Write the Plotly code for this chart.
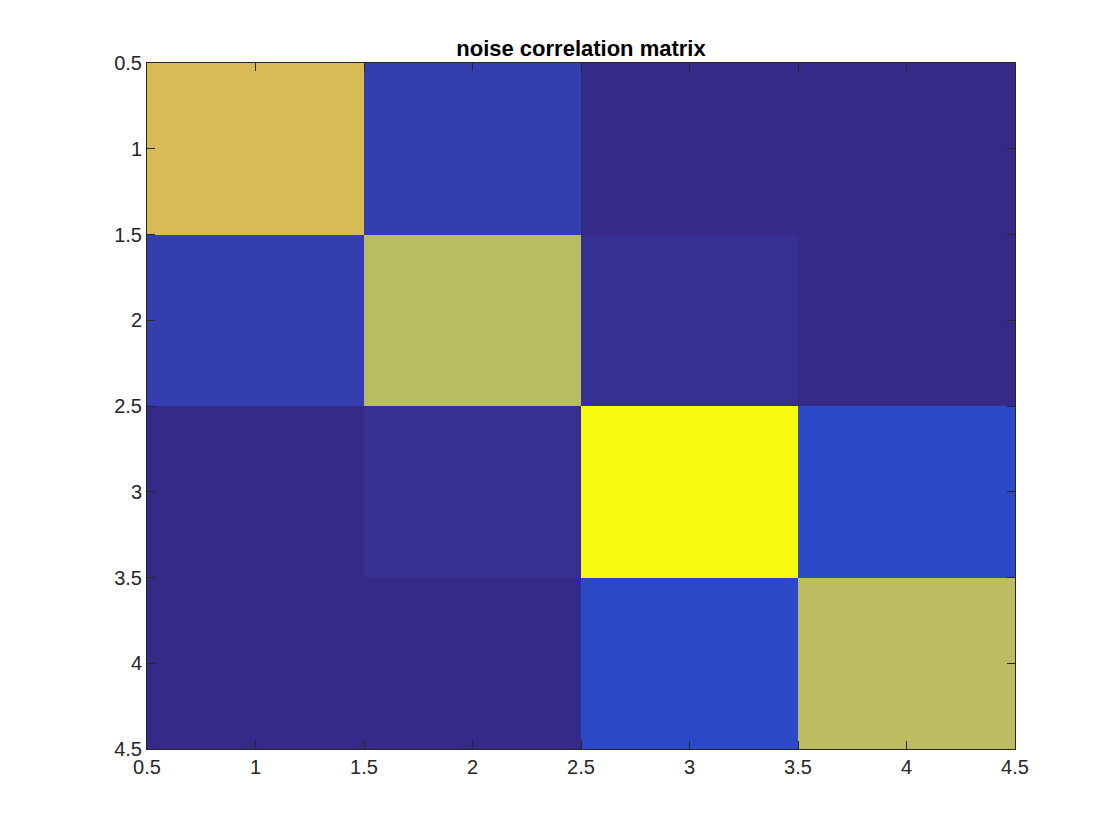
import plotly.graph_objects as go

x_vals = [1, 2, 3, 4]
y_vals = [1, 2, 3, 4]
z_vals = [
    [0.76, 0.05, 0.00, 0.00],
    [0.05, 0.70, 0.016, 0.00],
    [0.00, 0.016, 1.00, 0.08],
    [0.00, 0.00, 0.08, 0.71],
]
tick_vals = [0.5, 1, 1.5, 2, 2.5, 3, 3.5, 4, 4.5]
tick_text = ["0.5", "1", "1.5", "2", "2.5", "3", "3.5", "4", "4.5"]
title_text = "noise correlation matrix"

parula = [
    (0.2081, 0.1663, 0.5292), (0.2116, 0.1898, 0.5777), (0.2123, 0.2138, 0.6270),
    (0.2081, 0.2386, 0.6771), (0.1959, 0.2645, 0.7279), (0.1707, 0.2919, 0.7792),
    (0.1253, 0.3242, 0.8303), (0.0591, 0.3598, 0.8683), (0.0117, 0.3875, 0.8820),
    (0.0060, 0.4086, 0.8828), (0.0165, 0.4266, 0.8786), (0.0329, 0.4430, 0.8720),
    (0.0498, 0.4586, 0.8641), (0.0629, 0.4737, 0.8554), (0.0723, 0.4887, 0.8467),
    (0.0779, 0.5040, 0.8384), (0.0793, 0.5200, 0.8312), (0.0749, 0.5375, 0.8263),
    (0.0641, 0.5570, 0.8240), (0.0488, 0.5772, 0.8228), (0.0343, 0.5966, 0.8199),
    (0.0265, 0.6137, 0.8135), (0.0239, 0.6287, 0.8038), (0.0231, 0.6418, 0.7913),
    (0.0228, 0.6535, 0.7768), (0.0267, 0.6642, 0.7607), (0.0384, 0.6743, 0.7436),
    (0.0590, 0.6838, 0.7254), (0.0843, 0.6928, 0.7062), (0.1133, 0.7015, 0.6859),
    (0.1453, 0.7098, 0.6646), (0.1801, 0.7177, 0.6424), (0.2178, 0.7250, 0.6193),
    (0.2586, 0.7317, 0.5954), (0.3022, 0.7376, 0.5712), (0.3482, 0.7424, 0.5473),
    (0.3953, 0.7459, 0.5244), (0.4420, 0.7481, 0.5033), (0.4871, 0.7491, 0.4840),
    (0.5300, 0.7491, 0.4661), (0.5709, 0.7485, 0.4494), (0.6099, 0.7473, 0.4337),
    (0.6473, 0.7456, 0.4188), (0.6834, 0.7435, 0.4044), (0.7184, 0.7411, 0.3905),
    (0.7525, 0.7384, 0.3768), (0.7858, 0.7356, 0.3633), (0.8185, 0.7327, 0.3498),
    (0.8507, 0.7299, 0.3360), (0.8824, 0.7274, 0.3217), (0.9139, 0.7258, 0.3063),
    (0.9450, 0.7261, 0.2886), (0.9739, 0.7314, 0.2666), (0.9938, 0.7455, 0.2403),
    (0.9990, 0.7653, 0.2164), (0.9955, 0.7861, 0.1967), (0.9880, 0.8066, 0.1794),
    (0.9789, 0.8271, 0.1633), (0.9697, 0.8481, 0.1475), (0.9626, 0.8705, 0.1309),
    (0.9589, 0.8949, 0.1132), (0.9598, 0.9218, 0.0948), (0.9661, 0.9514, 0.0755),
    (0.9763, 0.9831, 0.0538),
]
n = len(parula)
colorscale = [[i / (n - 1), "rgb(%d,%d,%d)" % tuple(round(c * 255) for c in rgb)]
              for i, rgb in enumerate(parula)]

fig = go.Figure(go.Heatmap(
    x=x_vals, y=y_vals, z=z_vals, colorscale=colorscale,
    zmin=0, zmax=1, showscale=False, xgap=0, ygap=0,
))

axis_common = dict(
    tickvals=tick_vals, ticktext=tick_text, ticks="inside", ticklen=8,
    tickwidth=1, tickcolor="#262626", showline=True, linecolor="#262626",
    linewidth=1, mirror="ticks", showgrid=False, zeroline=False,
    tickfont=dict(family="Liberation Sans, Arial, sans-serif", size=20, color="#262626"),
)

W, H = 1120, 840
L, T = 139, 55
PW, PH = 868, 686

fig.update_layout(
    width=W, height=H,
    margin=dict(l=L, r=W - L - PW, t=T, b=H - T - PH),
    paper_bgcolor="white", plot_bgcolor="white",
    title=dict(text="<b>" + title_text + "</b>", x=(L + PW / 2) / W, xanchor="center",
               y=1 - 40 / H, yanchor="middle",
               font=dict(family="Liberation Sans, Arial, sans-serif", size=22, color="black")),
    xaxis=dict(range=[0.5, 4.5], **axis_common),
    yaxis=dict(range=[4.5, 0.5], **axis_common),
)

fig.write_html("out.html")
